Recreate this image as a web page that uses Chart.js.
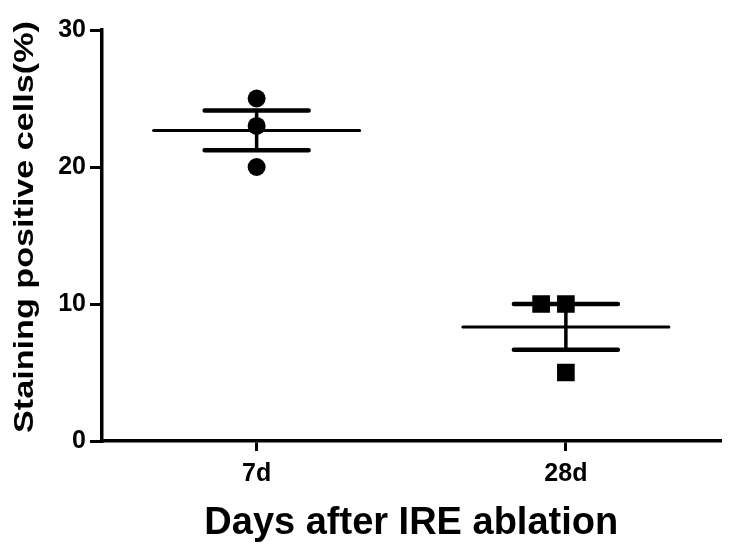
<!DOCTYPE html>
<html>
<head>
<meta charset="utf-8">
<script src="https://cdn.jsdelivr.net/npm/chart.js@4.4.1/dist/chart.umd.min.js"></script>
<style>
  html, body { margin: 0; padding: 0; background: #fff; }
  #wrap { width: 733px; height: 555px; }
</style>
</head>
<body>
<div id="wrap"><canvas id="dotChart"></canvas></div>
<script>
// datos
const categories = ['7d', '28d'];
const values7d = [25, 23, 20];
const values28d = [10, 10, 5];
const means = [22.67, 8.33];
const sems = [1.45, 1.67];
const yTicks = [0, 10, 20, 30];
const xTitle = 'Days after IRE ablation';
const yTitle = 'Staining positive cells(%)';

const FONT = "'Liberation Sans', Arial, sans-serif";

// puntos repetidos se separan un poco hacia la izquierda
function toPoints(values, pos) {
    const seen = {};
    return values.map(v => {
        const n = seen[v] || 0;
        seen[v] = n + 1;
        const dup = values.filter(w => w === v).length;
        const shift = (dup > 1 && n < dup - 1) ? -0.08 * (dup - 1 - n) : 0;
        return { x: pos + shift, y: v };
    });
}

// media y error estandar dibujados con las escalas del grafico
const meanSemPlugin = {
    id: 'meanSem',
    beforeDatasetsDraw(chart) {
        const { ctx, scales } = chart;
        ctx.save();
        ctx.strokeStyle = '#000';
        ctx.lineCap = 'round';
        categories.forEach((c, i) => {
            const x = scales.x.getPixelForValue(i + 1);
            const yM = scales.y.getPixelForValue(means[i]);
            const yU = scales.y.getPixelForValue(means[i] + sems[i]);
            const yL = scales.y.getPixelForValue(means[i] - sems[i]);
            ctx.lineWidth = 3;
            ctx.beginPath();
            ctx.moveTo(x - 103, yM); ctx.lineTo(x + 103, yM);
            ctx.stroke();
            ctx.lineWidth = 4.5;
            ctx.beginPath();
            ctx.moveTo(x - 52, yU); ctx.lineTo(x + 52, yU);
            ctx.moveTo(x - 52, yL); ctx.lineTo(x + 52, yL);
            ctx.stroke();
            ctx.lineWidth = 3.5;
            ctx.beginPath();
            ctx.moveTo(x, yU); ctx.lineTo(x, yL);
            ctx.stroke();
        });
        ctx.restore();
    }
};

// titulo del eje Y un poco estirado, como en la figura original
const yTitlePlugin = {
    id: 'yTitle',
    afterDraw(chart) {
        const { ctx } = chart;
        ctx.save();
        ctx.font = 'bold 27px ' + FONT;
        ctx.fillStyle = '#000';
        ctx.textAlign = 'center';
        ctx.textBaseline = 'middle';
        const w = ctx.measureText(yTitle).width;
        ctx.translate(26, 227);
        ctx.rotate(-Math.PI / 2);
        ctx.scale(412 / w, 1);
        ctx.fillText(yTitle, 0, 0);
        ctx.restore();
    }
};

const ctx = document.getElementById('dotChart');
new Chart(ctx.getContext('2d'), {
    type: 'scatter',
    data: {
        datasets: [{
            label: categories[0],
            data: toPoints(values7d, 1),
            pointStyle: 'circle',
            pointRadius: 9,
            backgroundColor: '#000',
            borderColor: '#000',
            borderWidth: 0
        }, {
            label: categories[1],
            data: toPoints(values28d, 2),
            pointStyle: 'rect',
            pointRadius: 12.5,
            backgroundColor: '#000',
            borderColor: '#000',
            borderWidth: 0
        }]
    },
    options: {
        responsive: true,
        maintainAspectRatio: false,
        animation: false,
        events: [],
        layout: { padding: { top: 30, right: 11, left: 0, bottom: 0 } },
        plugins: {
            legend: { display: false },
            tooltip: { enabled: false }
        },
        scales: {
            x: {
                type: 'linear',
                min: 0.5,
                max: 2.5,
                afterBuildTicks: s => { s.ticks = categories.map((c, i) => ({ value: i + 1 })); },
                afterFit: s => { s.height = 114; },
                ticks: {
                    callback: v => categories[v - 1],
                    color: '#000',
                    font: { family: FONT, size: 25, weight: 'bold' },
                    padding: 8,
                    maxRotation: 0
                },
                grid: { drawOnChartArea: false, drawTicks: true, tickLength: 10, color: '#000', lineWidth: 3 },
                border: { color: '#000', width: 3.5 },
                title: {
                    display: true,
                    text: xTitle,
                    color: '#000',
                    font: { family: FONT, size: 38, weight: 'bold' },
                    padding: { top: 0, bottom: 9 }
                }
            },
            y: {
                min: 0,
                max: 30,
                afterBuildTicks: s => { s.ticks = yTicks.map(v => ({ value: v })); },
                afterFit: s => { s.width = 102; },
                ticks: {
                    color: '#000',
                    font: { family: FONT, size: 25, weight: 'bold' },
                    padding: 4
                },
                grid: { drawOnChartArea: false, drawTicks: true, tickLength: 12, color: '#000', lineWidth: 3 },
                border: { color: '#000', width: 3.5 }
            }
        }
    },
    plugins: [meanSemPlugin, yTitlePlugin]
});
</script>
</body>
</html>
